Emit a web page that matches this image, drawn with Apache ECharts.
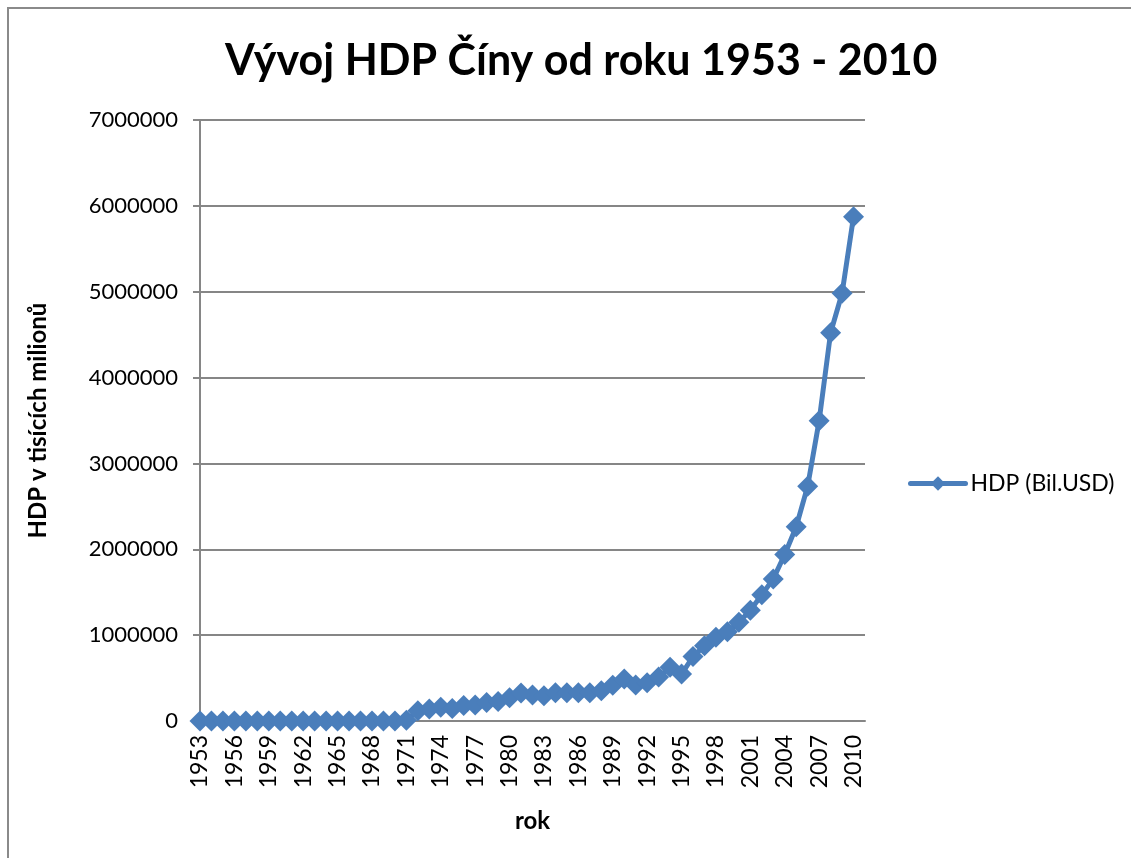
<!DOCTYPE html>
<html>
<head>
<meta charset="utf-8">
<script src="https://cdn.jsdelivr.net/npm/echarts@6/dist/echarts.min.js"></script>
<style>
html,body{margin:0;padding:0;background:#fff;}
#chart{width:1131px;height:858px;}
</style>
</head>
<body>
<div id="chart"></div>
<script>
var years = [];
for (var y = 1953; y <= 2010; y++) years.push(String(y));

// HDP v milionech USD
var hdp = [
	0, 0, 0, 0, 0, 0, 0, 0, 0, 0,          // 1953-1962
	0, 0, 0, 0, 0, 0, 0, 0, 10000, 120000, // 1963-1972
	140000, 160000, 145000, 180000, 185000, 215000, 228000, 272000, 326000, 303000, // 1973-1982
	295000, 330000, 330000, 330000, 330000, 353000, 415000, 489000, 419000, 446000, // 1983-1992
	512000, 625000, 547000, 750000, 877000, 975000, 1040000, 1150000, 1290000, 1470000, // 1993-2002
	1655000, 1940000, 2262000, 2735000, 3497000, 4522000, 4982000, 5874000 // 2003-2010
];
var yTicks = [0, 1000000, 2000000, 3000000, 4000000, 5000000, 6000000, 7000000];

var chart = echarts.init(document.getElementById('chart'));
var font = 'Lato, "Open Sans", sans-serif';
var gray = '#868686';

chart.setOption({
	animation: false,
	backgroundColor: '#fff',
	title: {
		text: 'Vývoj HDP Číny od roku 1953 - 2010',
		left: 220,
		top: 35,
		textStyle: {fontFamily: font, fontSize: 43, fontWeight: 'bold', color: '#000'}
	},
	graphic: [{
		type: 'rect',
		shape: {x: 8, y: 8, width: 1140, height: 880},
		style: {fill: 'none', stroke: '#8a8a8a', lineWidth: 2},
		silent: true
	}],
	legend: {
		left: 903,
		top: 467,
		itemWidth: 55,
		itemHeight: 18,
		itemGap: 6,
		lineStyle: {width: 5, cap: 'round'},
		textStyle: {fontFamily: font, fontSize: 23, color: '#000'},
		data: ['HDP (Bil.USD)']
	},
	grid: {left: 200, right: 266, top: 120, bottom: 137},
	xAxis: {
		type: 'category',
		data: years.concat(['']),
		boundaryGap: false,
		name: 'rok',
		nameLocation: 'middle',
		nameGap: 88,
		nameTextStyle: {fontFamily: font, fontSize: 24, fontWeight: 'bold', color: '#000'},
		axisLine: {lineStyle: {color: gray, width: 2}},
		axisTick: {show: false},
		axisLabel: {
			interval: 2,
			rotate: 90,
			margin: 14,
			fontFamily: font,
			fontSize: 23,
			color: '#000'
		},
		splitLine: {show: false}
	},
	yAxis: {
		type: 'value',
		min: yTicks[0],
		max: yTicks[yTicks.length - 1],
		interval: 1000000,
		name: 'HDP v tisících milionů',
		nameLocation: 'middle',
		nameGap: 150,
		nameTextStyle: {fontFamily: font, fontSize: 24, fontWeight: 'bold', color: '#000'},
		axisLine: {show: true, lineStyle: {color: gray, width: 2}},
		axisTick: {show: true, length: 7, lineStyle: {color: gray, width: 2}},
		axisLabel: {
			margin: 22,
			fontFamily: font,
			fontSize: 22,
			color: '#000',
			formatter: function (v) { return String(v); }
		},
		splitLine: {lineStyle: {color: gray, width: 2}}
	},
	series: [{
		name: 'HDP (Bil.USD)',
		type: 'line',
		data: hdp,
		symbol: 'diamond',
		symbolSize: 21,
		showAllSymbol: true,
		lineStyle: {color: '#4a7ebb', width: 5},
		itemStyle: {color: '#4a7ebb'}
	}]
});
</script>
</body>
</html>
